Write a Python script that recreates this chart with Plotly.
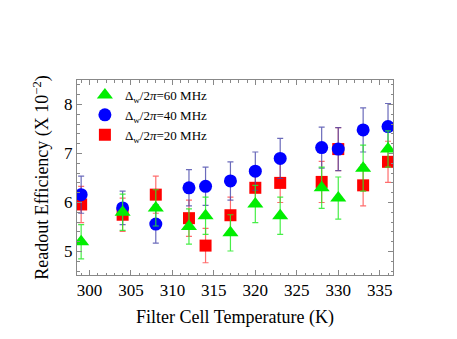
import plotly.graph_objects as go

# temperatures (K)
temps = [299, 304, 308, 312, 314, 317, 320, 323, 328, 330, 333, 336]

# readout efficiency (x 1e-2) and errors per detuning
eff_60 = [5.20, 5.80, 5.89, 5.51, 5.73, 5.38, 5.97, 5.73, 6.30, 6.09, 6.70, 7.09]
err_60 = [0.35, 0.37, 0.37, 0.36, 0.38, 0.37, 0.38, 0.38, 0.42, 0.43, 0.47, 0.37]

eff_40 = [6.16, 5.89, 5.56, 6.30, 6.33, 6.44, 6.64, 6.90, 7.12, 7.09, 7.48, 7.55]
err_40 = [0.38, 0.34, 0.39, 0.37, 0.39, 0.39, 0.39, 0.41, 0.42, 0.44, 0.45, 0.47]

eff_20 = [5.96, 5.75, 6.16, 5.68, 5.12, 5.74, 6.30, 6.40, 6.42, 7.09, 6.35, 6.83]
err_20 = [0.37, 0.34, 0.38, 0.37, 0.35, 0.37, 0.38, 0.40, 0.42, 0.44, 0.42, 0.42]

labels = [
    "Δ<sub>w</sub>/2<i>π</i>=60 MHz",
    "Δ<sub>w</sub>/2<i>π</i>=40 MHz",
    "Δ<sub>w</sub>/2<i>π</i>=20 MHz",
]

font = "Liberation Serif, Times New Roman, serif"

fig = go.Figure()

# red first so blue and green sit on top of it
series = [
    (eff_20, err_20, labels[2], "#ff0000", "rgba(255,60,60,0.75)", "square", 12),
    (eff_40, err_40, labels[1], "#0000ff", "rgba(70,70,170,0.8)", "circle", 13),
    (eff_60, err_60, labels[0], "#00ee00", "rgba(40,235,40,0.85)", "triangle-up", 14),
]
for vals, errs, name, col, ecol, sym, size in series:
    fig.add_trace(go.Scatter(
        x=temps, y=vals, name=name, mode="markers",
        marker=dict(color=col, symbol=sym, size=size, line=dict(width=0)),
        error_y=dict(type="data", array=errs, color=ecol, thickness=1.2, width=3),
    ))

axis_common = dict(
    showline=True, linecolor="#888888", linewidth=1, mirror="allticks",
    ticks="inside", ticklen=5, tickcolor="#888888", showgrid=False, zeroline=False,
    tickfont=dict(family=font, size=17, color="black"),
)

fig.update_xaxes(
    range=[298.5, 336.6], tick0=300, dtick=5,
    minor=dict(dtick=1, ticks="inside", ticklen=2.5, tickcolor="#888888"),
    title=dict(text="Filter Cell Temperature (K)",
               font=dict(family=font, size=18, color="black"), standoff=10),
    **axis_common,
)
fig.update_yaxes(
    range=[4.52, 8.5], tick0=5, dtick=1,
    minor=dict(dtick=0.2, ticks="inside", ticklen=2.5, tickcolor="#888888"),
    title=dict(text="Readout Efficiency (X 10<sup>−2</sup>)",
               font=dict(family=font, size=18, color="black"), standoff=10),
    **axis_common,
)

fig.update_layout(
    width=457, height=339,
    margin=dict(l=69, r=72, t=72, b=72),
    plot_bgcolor="white", paper_bgcolor="white",
    legend=dict(
        x=0.025, y=1.0, xanchor="left", yanchor="top",
        bgcolor="rgba(0,0,0,0)", traceorder="reversed",
        font=dict(family=font, size=13, color="black"),
        itemwidth=30, tracegroupgap=0,
    ),
)

fig.write_html("out.html")
